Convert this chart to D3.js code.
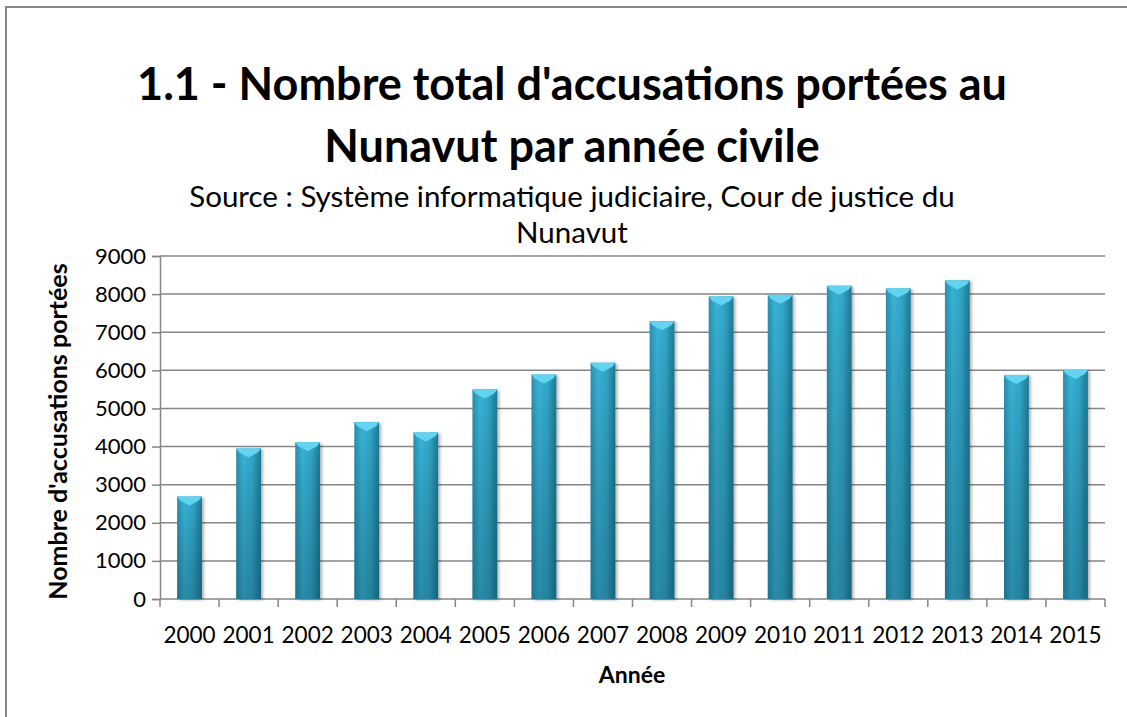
<!DOCTYPE html>
<html>
<head>
<meta charset="utf-8">
<script src="https://cdn.jsdelivr.net/npm/d3@7"></script>
<style>
  body { margin: 0; background: #fff; overflow: hidden; }
  svg { display: block; }
  text { font-family: Lato, "Open Sans", sans-serif; fill: #000; }
</style>
</head>
<body>
<div id="chart"></div>
<script>
// chart data
let years = ["2000", "2001", "2002", "2003", "2004", "2005", "2006", "2007",
  "2008", "2009", "2010", "2011", "2012", "2013", "2014", "2015"];
let charges = [2690, 3950, 4110, 4640, 4370, 5500, 5890, 6200,
  7290, 7940, 7980, 8220, 8150, 8360, 5880, 6010];
let yTicks = [0, 1000, 2000, 3000, 4000, 5000, 6000, 7000, 8000, 9000];

let titleLines = ["1.1 - Nombre total d'accusations portées au", "Nunavut par année civile"];
let subtitleLines = ["Source : Système informatique judiciaire, Cour de justice du", "Nunavut"];
let xTitle = "Année";
let yTitle = "Nombre d'accusations portées";

let svgWidth = 1127;
let svgHeight = 717;

let margin = { top: 256, right: 22, bottom: 118, left: 160 };
let width = svgWidth - margin.left - margin.right;
let height = svgHeight - margin.top - margin.bottom;

let svg = d3
  .select("#chart")
  .append("svg")
  .attr("width", svgWidth)
  .attr("height", svgHeight);

let defs = svg.append("defs");

// side-to-side shading of the bars
let hGrad = defs.append("linearGradient").attr("id", "barH")
  .attr("x1", "0%").attr("x2", "100%").attr("y1", "0%").attr("y2", "0%");
hGrad.append("stop").attr("offset", "0%").attr("stop-color", "#2790b0");
hGrad.append("stop").attr("offset", "30%").attr("stop-color", "#38b3d6");
hGrad.append("stop").attr("offset", "65%").attr("stop-color", "#31a6c8");
hGrad.append("stop").attr("offset", "100%").attr("stop-color", "#1e7893");

// darker toward the base
let vGrad = defs.append("linearGradient").attr("id", "barV")
  .attr("x1", "0%").attr("x2", "0%").attr("y1", "0%").attr("y2", "100%");
vGrad.append("stop").attr("offset", "0%").attr("stop-color", "#000").attr("stop-opacity", 0);
vGrad.append("stop").attr("offset", "100%").attr("stop-color", "#06303f").attr("stop-opacity", 0.3);

let shadow = defs.append("filter").attr("id", "shadow")
  .attr("x", "-30%").attr("y", "-5%").attr("width", "160%").attr("height", "110%");
shadow.append("feDropShadow").attr("dx", 2).attr("dy", 1)
  .attr("stdDeviation", 1.5).attr("flood-color", "#000").attr("flood-opacity", 0.3);

// outer frame (runs off the right and bottom edges)
svg.append("rect")
  .attr("x", 6).attr("y", 7)
  .attr("width", 1300).attr("height", 900)
  .attr("fill", "none")
  .attr("stroke", "#878787")
  .attr("stroke-width", 2);

// titles
let cx = 572;
svg.selectAll(".title")
  .data(titleLines)
  .enter()
  .append("text")
  .attr("class", "title")
  .attr("x", cx)
  .attr("y", (d, i) => 100 + i * 62)
  .attr("text-anchor", "middle")
  .attr("font-size", 45)
  .attr("font-weight", "bold")
  .text(d => d);

svg.selectAll(".subtitle")
  .data(subtitleLines)
  .enter()
  .append("text")
  .attr("class", "subtitle")
  .attr("x", cx)
  .attr("y", (d, i) => 207 + i * 36)
  .attr("text-anchor", "middle")
  .attr("font-size", 29.5)
  .text(d => d);

let chartGroup = svg.append("g")
  .attr("transform", `translate(${margin.left}, ${margin.top})`);

let xScale = d3.scaleBand()
  .domain(years)
  .range([0, width])
  .paddingInner(0.58)
  .paddingOuter(0.29);

let yScale = d3.scaleLinear()
  .domain([0, 9000])
  .range([height, 0]);

// gridlines
chartGroup.append("g")
  .selectAll("line")
  .data(yTicks.slice(1))
  .enter()
  .append("line")
  .attr("x1", 0)
  .attr("x2", width)
  .attr("y1", d => yScale(d))
  .attr("y2", d => yScale(d))
  .attr("stroke", "#868686")
  .attr("stroke-width", 1.5);

// y axis
let yAxis = chartGroup.append("g")
  .call(d3.axisLeft(yScale)
    .tickValues(yTicks)
    .tickFormat(d3.format("d"))
    .tickSize(8)
    .tickPadding(6));
yAxis.select(".domain").attr("stroke", "#868686").attr("stroke-width", 1.5);
yAxis.selectAll(".tick line").attr("stroke", "#868686").attr("stroke-width", 1.5);
yAxis.selectAll(".tick text")
  .attr("font-size", 22)
  .attr("font-family", "Lato, sans-serif")
  .attr("fill", "#000");

// x axis: ticks sit on the band edges
let xAxis = chartGroup.append("g")
  .attr("transform", `translate(0, ${height})`);
xAxis.append("line")
  .attr("x1", 0).attr("x2", width)
  .attr("stroke", "#868686").attr("stroke-width", 1.5);
let step = xScale.step();
xAxis.selectAll(".xtick")
  .data(d3.range(years.length + 1))
  .enter()
  .append("line")
  .attr("x1", d => d * step)
  .attr("x2", d => d * step)
  .attr("y1", 0)
  .attr("y2", 8)
  .attr("stroke", "#868686")
  .attr("stroke-width", 1.5);
xAxis.selectAll(".xlabel")
  .data(years)
  .enter()
  .append("text")
  .attr("x", d => xScale(d) + xScale.bandwidth() / 2)
  .attr("y", 44)
  .attr("text-anchor", "middle")
  .attr("font-size", 22.5)
  .text(d => d);

// bars
let bars = chartGroup.append("g")
  .selectAll("g")
  .data(charges)
  .enter()
  .append("g");

bars.append("rect")
  .attr("x", (d, i) => xScale(years[i]))
  .attr("y", d => yScale(d))
  .attr("width", xScale.bandwidth())
  .attr("height", d => height - yScale(d))
  .attr("fill", "url(#barH)")
  .attr("filter", "url(#shadow)");

bars.append("rect")
  .attr("x", (d, i) => xScale(years[i]))
  .attr("y", d => yScale(d))
  .attr("width", xScale.bandwidth())
  .attr("height", d => height - yScale(d))
  .attr("fill", "url(#barV)");

// light bevel on top of each bar
bars.append("path")
  .attr("d", (d, i) => {
    let x0 = xScale(years[i]);
    let x1 = x0 + xScale.bandwidth();
    let xm = (x0 + x1) / 2;
    let y0 = yScale(d);
    return `M${x0},${y0} L${x1},${y0} L${x1 - 3},${y0 + 4} L${xm},${y0 + 9} L${x0 + 3},${y0 + 4} Z`;
  })
  .attr("fill", "#62d4f0");

// axis titles
chartGroup.append("text")
  .attr("x", 472)
  .attr("y", height + 84)
  .attr("text-anchor", "middle")
  .attr("font-size", 23)
  .attr("font-weight", "bold")
  .text(xTitle);

chartGroup.append("text")
  .attr("transform", "rotate(-90)")
  .attr("x", -height / 2 - 4)
  .attr("y", -margin.left + 67)
  .attr("text-anchor", "middle")
  .attr("font-size", 25)
  .attr("font-weight", "bold")
  .text(yTitle);
</script>
</body>
</html>
